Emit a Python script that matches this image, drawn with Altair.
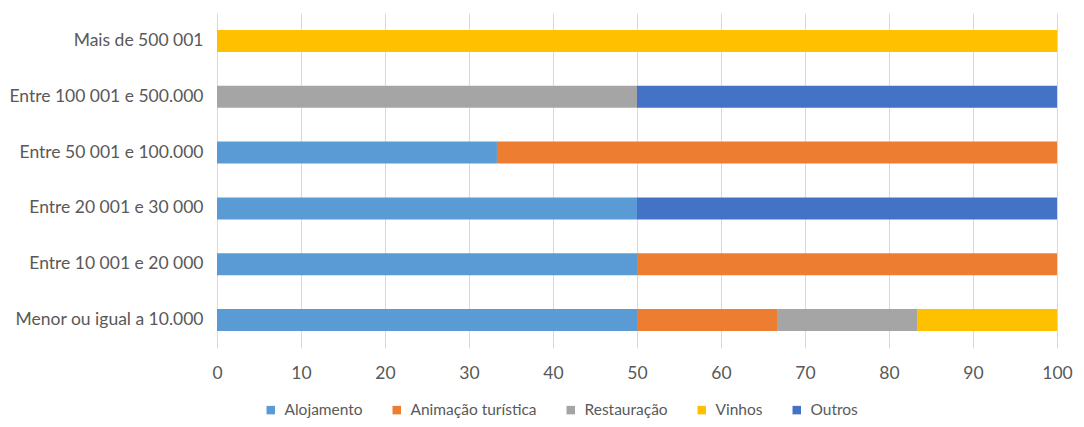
import altair as alt
import pandas as pd

categories = [
    "Mais de 500 001",
    "Entre 100 001 e 500.000",
    "Entre 50 001 e 100.000",
    "Entre 20 001 e 30 000",
    "Entre 10 001 e 20 000",
    "Menor ou igual a 10.000",
]
series = ["Alojamento", "Animação turística", "Restauração", "Vinhos", "Outros"]
colors = ["#5B9BD5", "#ED7D31", "#A5A5A5", "#FFC000", "#4472C4"]

alojamento = [0, 0, 33.33, 50, 50, 50]
animacao = [0, 0, 66.67, 0, 50, 16.67]
restauracao = [0, 50, 0, 0, 0, 16.67]
vinhos = [100, 0, 0, 0, 0, 16.66]
outros = [0, 50, 0, 50, 0, 0]

values = [alojamento, animacao, restauracao, vinhos, outros]
rows = []
for si, (s, vals) in enumerate(zip(series, values)):
    for c, v in zip(categories, vals):
        if v > 0:
            rows.append({"cat": c, "serie": s, "valor": v, "ordem": si})
df = pd.DataFrame(rows)

font = "Lato"
txt = "#595959"
fs = 17.5

chart = alt.Chart(df).mark_bar(size=22).encode(
    y=alt.Y("cat:N", sort=categories, title=None,
            axis=alt.Axis(labelFontSize=fs, labelColor=txt, labelFont=font, labelLimit=400,
                          ticks=False, domain=False, labelPadding=14, grid=False)),
    x=alt.X("valor:Q", stack="zero", title=None,
            scale=alt.Scale(domain=[0, 100], nice=False),
            axis=alt.Axis(values=list(range(0, 101, 10)), labelFontSize=fs, labelColor=txt,
                          labelFont=font, ticks=False, domain=False, labelPadding=16,
                          labelFlush=False,
                          grid=True, gridColor="#D9D9D9", gridWidth=1)),
    color=alt.Color("serie:N", sort=series,
                    scale=alt.Scale(domain=series, range=colors),
                    legend=alt.Legend(title=None, orient="none", direction="horizontal",
                                      legendX=46, legendY=389, symbolType="square",
                                      symbolSize=72, symbolStrokeWidth=0,
                                      labelFontSize=15.5, labelColor=txt, labelFont=font,
                                      columnPadding=26, labelOffset=6)),
    order=alt.Order("ordem:Q"),
).properties(
    width=840, height=335,
    autosize=alt.AutoSizeParams(type="none"),
    padding={"left": 209, "top": 5, "right": 19, "bottom": 71},
).configure_view(stroke=None)

chart.save("out.html", embed_options={"renderer": "svg", "actions": False})
